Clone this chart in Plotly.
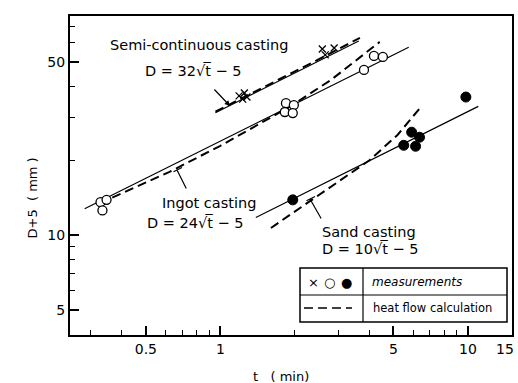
import math
import plotly.graph_objects as go

# ---- data ----
semi_t = [1.19, 1.25, 1.28, 1.23, 2.58, 2.65, 2.88]
semi_d5 = [36.6, 37.6, 36.2, 35.5, 56.6, 53.6, 57.2]

ingot_t = [0.328, 0.347, 0.334, 1.84, 1.98, 1.82, 1.96, 3.8, 4.17, 4.53]
ingot_d5 = [13.6, 13.9, 12.6, 34.2, 33.6, 31.5, 31.2, 46.6, 53.1, 52.6]

sand_t = [1.96, 5.5, 5.92, 6.14, 6.37, 9.8]
sand_d5 = [13.9, 23.1, 26.1, 22.9, 24.9, 36.2]

# fitted lines D+5 = a*sqrt(t) (straight on log-log: endpoints)
semi_fit_t = [0.955, 3.62]
semi_fit_d5 = [31.3, 61.0]
ingot_fit_t = [0.283, 5.76]
ingot_fit_d5 = [12.8, 57.6]
sand_fit_t = [1.39, 11.0]
sand_fit_d5 = [11.8, 33.2]

# heat flow calculation (dashed)
semi_calc_t = [0.955, 1.5, 2.5, 3.66]
semi_calc_d5 = [31.6, 39.6, 51.5, 62.8]
ingot_calc_t = [0.366, 0.62, 1.0, 1.9, 2.8, 4.4]
ingot_calc_d5 = [14.2, 18.0, 23.0, 33.0, 42.5, 60.5]
sand_calc_t = [1.6, 2.5, 4.0, 5.2, 6.4]
sand_calc_d5 = [10.7, 14.6, 20.1, 25.5, 32.7]

x_tick_vals = [0.5, 1, 5, 10]
x_tick_text = ["0.5", "1", "5", "10"]
x_edge_label = "15"
x_minor_vals = [0.3, 0.4, 0.6, 0.7, 0.8, 0.9, 2, 3, 4, 6, 7, 8, 9]
y_tick_vals = [5, 10, 50]
y_tick_text = ["5", "10", "50"]
y_minor_vals = [6, 7, 8, 9, 20, 30, 40, 60, 70]

FONT = "DejaVu Sans"
W, H = 518, 383
L, R, T, B = 70, 6, 16, 48
PW, PH = W - L - R, H - T - B


def px(x):
    return (x - L) / PW


def py(y):
    return (H - B - y) / PH


fig = go.Figure()

line_solid = dict(color="black", width=1.2)
line_dash = dict(color="black", width=2, dash="9px,5px")

for tt, yy in [(semi_fit_t, semi_fit_d5), (ingot_fit_t, ingot_fit_d5), (sand_fit_t, sand_fit_d5)]:
    fig.add_trace(go.Scatter(x=tt, y=yy, mode="lines", line=line_solid))
for tt, yy in [(semi_calc_t, semi_calc_d5), (ingot_calc_t, ingot_calc_d5), (sand_calc_t, sand_calc_d5)]:
    fig.add_trace(go.Scatter(x=tt, y=yy, mode="lines", line=line_dash))

fig.add_trace(go.Scatter(x=semi_t, y=semi_d5, mode="markers",
                         marker=dict(symbol="x-thin", size=7, line=dict(color="black", width=1.3))))
fig.add_trace(go.Scatter(x=ingot_t, y=ingot_d5, mode="markers",
                         marker=dict(symbol="circle", size=9, color="white", line=dict(color="black", width=1.3))))
fig.add_trace(go.Scatter(x=sand_t, y=sand_d5, mode="markers",
                         marker=dict(symbol="circle", size=10, color="black", line=dict(color="black", width=1))))

ann = []


def txt(x, y, s, size=14, xanchor="left", **kw):
    ann.append(dict(xref="paper", yref="paper", x=px(x), y=py(y), text=s, showarrow=False,
                    xanchor=xanchor, yanchor="middle", font=dict(family=FONT, size=size, color="black"), **kw))


def leader(x0, y0, x1, y1, head=0):
    ann.append(dict(xref="paper", yref="paper", x=px(x1), y=py(y1), axref="pixel", ayref="pixel",
                    ax=x0 - x1, ay=y0 - y1, text="", showarrow=True, arrowhead=head,
                    arrowsize=0.9, arrowwidth=1.2, arrowcolor="black"))


sq = "√t\u0305"
txt(108, 45, "Semi-continuous casting", 14.5)
txt(143, 70, "D = 32" + sq + " − 5", 14.5)
txt(160, 203, "Ingot casting", 14.5)
txt(145, 223, "D = 24" + sq + " − 5", 14.5)
txt(320, 232, "Sand casting", 14.5)
txt(320, 248, "D = 10" + sq + " − 5", 14.5)

leader(213, 88, 230, 106, head=2)
leader(187, 190, 177, 170)
leader(172, 172.5, 182, 167.5)
leader(322, 220, 310, 199)
leader(305, 201.5, 315, 196.5)

# legend box contents
txt(313, 282, "×", 13, xanchor="center")
txt(329, 282, "○", 13, xanchor="center")
txt(346, 282, "●", 13, xanchor="center")
txt(370, 282, "<i>measurements</i>", 12)
txt(371, 308, "heat flow calculation", 11.5)

# "15" tick label at the right edge
txt(516, 349, x_edge_label, 14, xanchor="right")

# axis titles
ann.append(dict(xref="paper", yref="paper", x=px(22), y=py(198), text="D+5  ( mm )", showarrow=False,
                textangle=-90, font=dict(family=FONT, size=13, color="black")))
txt(281, 376, "t   ( min)", 13, xanchor="center")

shapes = [
    dict(type="rect", xref="paper", yref="paper", x0=px(300), x1=px(507), y0=py(322), y1=py(268),
         fillcolor="white", line=dict(color="black", width=1.5), layer="above"),
    dict(type="line", xref="paper", yref="paper", x0=px(363), x1=px(363), y0=py(322), y1=py(268),
         line=dict(color="black", width=1.2)),
    dict(type="line", xref="paper", yref="paper", x0=px(300), x1=px(507), y0=py(295), y1=py(295),
         line=dict(color="black", width=1.2)),
    dict(type="line", xref="paper", yref="paper", x0=px(304), x1=px(352), y0=py(308), y1=py(308),
         line=dict(color="black", width=1.5, dash="9px,5px")),
]

axis_common = dict(type="log", showgrid=False, zeroline=False, showline=True, mirror=True,
                   automargin=False,
                   linecolor="black", linewidth=2, ticks="inside", ticklen=9, tickwidth=1.5,
                   tickcolor="black", tickfont=dict(family=FONT, size=14, color="black"))

fig.update_layout(
    width=W, height=H, margin=dict(l=L, r=R, t=T, b=B, autoexpand=False),
    paper_bgcolor="white", plot_bgcolor="white", showlegend=False,
    xaxis=dict(range=[math.log10(0.247), math.log10(15.05)], tickmode="array",
               tickvals=x_tick_vals, ticktext=x_tick_text,
               minor=dict(tickmode="array", tickvals=x_minor_vals, ticks="inside", ticklen=5,
                          tickwidth=1.2, tickcolor="black"),
               **axis_common),
    yaxis=dict(range=[math.log10(3.95), math.log10(77)], tickmode="array",
               tickvals=y_tick_vals, ticktext=y_tick_text,
               minor=dict(tickmode="array", tickvals=y_minor_vals, ticks="inside", ticklen=5,
                          tickwidth=1.2, tickcolor="black"),
               **axis_common),
    annotations=ann, shapes=shapes,
)

fig.write_html("out.html")
